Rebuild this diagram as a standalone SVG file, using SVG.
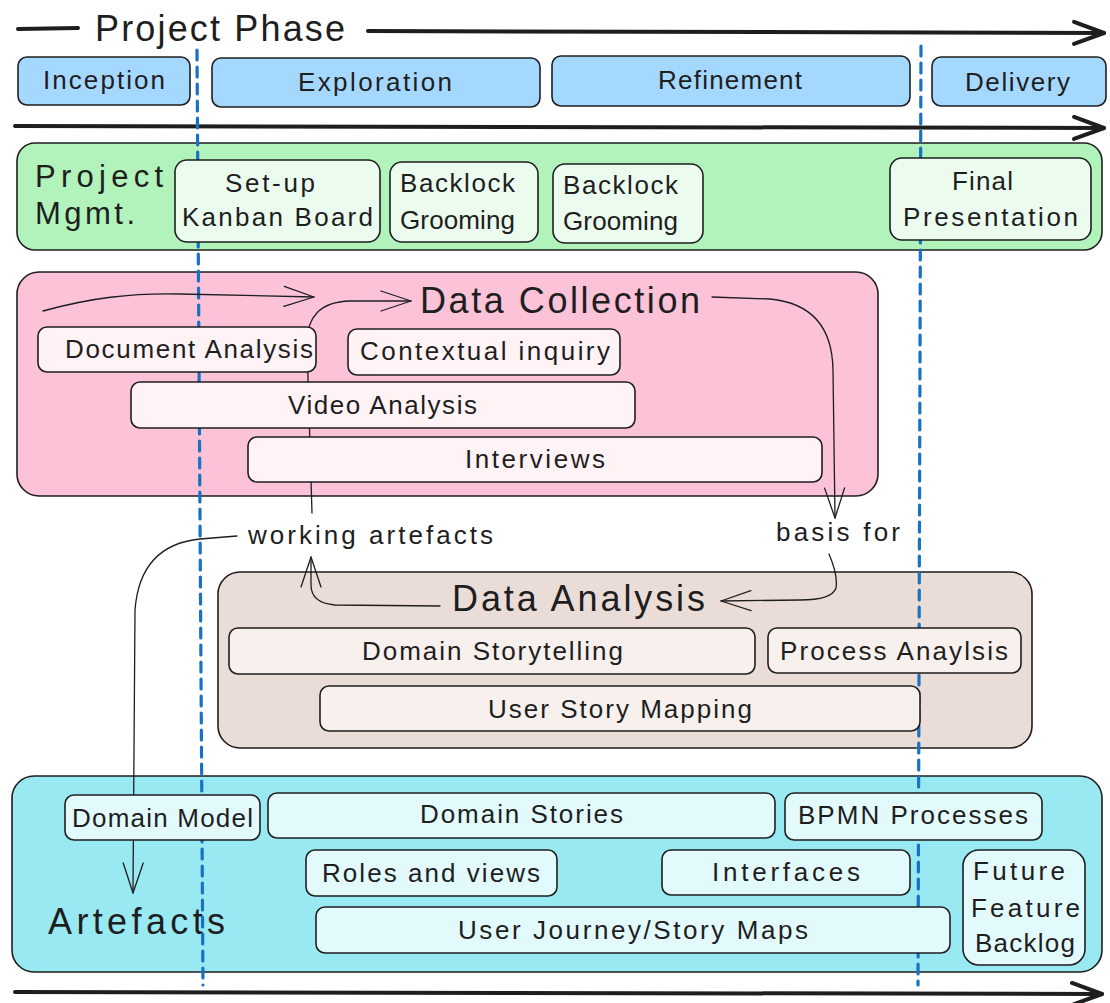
<svg xmlns="http://www.w3.org/2000/svg" width="1110" height="1003" viewBox="0 0 1110 1003">
<defs>
<marker id="arrow" markerUnits="userSpaceOnUse" markerWidth="36" markerHeight="26" viewBox="0 0 36 26" refX="32" refY="13" orient="auto">
<path d="M 2 3 L 32 13 L 2 23" fill="none" stroke="#1e1e1e" stroke-width="1.3" stroke-linecap="round" stroke-linejoin="round"/>
</marker>
<marker id="bigarrow" markerUnits="userSpaceOnUse" markerWidth="40" markerHeight="30" viewBox="0 0 40 30" refX="34" refY="15" orient="auto">
<path d="M 4 4 L 34 15 L 4 26" fill="none" stroke="#1e1e1e" stroke-width="4" stroke-linecap="round" stroke-linejoin="round"/>
</marker>
</defs>
<style>
text{font-family:"Liberation Sans","DejaVu Sans",sans-serif;fill:#1e1e1e;dominant-baseline:central;}
.t{font-size:26px;}
.big{font-size:36px;}
.pm{font-size:31px;}
.box{stroke:#1e1e1e;stroke-width:1.6;}
.phase{fill:#a5d8ff;}
.green{fill:#b2f2bb;}
.greensub{fill:#ebfbee;}
.pink{fill:#fcc2d7;}
.pinksub{fill:#fff3f5;}
.brown{fill:#eaddd7;}
.brownsub{fill:#f7f0ed;}
.cyan{fill:#99e9f2;}
.cyansub{fill:#e3fafc;}
.dash{stroke:#1971c2;stroke-width:3.2;stroke-dasharray:10 7;fill:none;stroke-linecap:round;}
.conn{fill:none;stroke:#1e1e1e;stroke-width:1.3;stroke-linecap:round;}
.thick{fill:none;stroke:#1e1e1e;stroke-width:4;stroke-linecap:round;}
</style>
<rect width="1110" height="1003" fill="#ffffff"/>

<!-- timeline arrows -->
<g id="timeline">
<path class="thick" d="M 18 29 L 78 28"/>
<text class="big" x="95" y="28" textLength="250">Project Phase</text>
<path class="thick" d="M 368 31 L 1104 33" marker-end="url(#bigarrow)"/>
<path class="thick" d="M 15 126 L 1104 128" marker-end="url(#bigarrow)"/>
<path class="thick" d="M 15 992 L 1102 994" marker-end="url(#bigarrow)"/>
</g>

<!-- phases -->
<g id="phase-inception"><rect class="box phase" x="18" y="57" width="172" height="48" rx="9"/><text class="t" x="43" y="80" textLength="122">Inception</text></g>
<g id="phase-exploration"><rect class="box phase" x="212" y="58" width="328" height="49" rx="9"/><text class="t" x="298" y="82" textLength="154">Exploration</text></g>
<g id="phase-refinement"><rect class="box phase" x="552" y="56" width="358" height="50" rx="9"/><text class="t" x="658" y="80" textLength="144">Refinement</text></g>
<g id="phase-delivery"><rect class="box phase" x="932" y="57" width="174" height="49" rx="9"/><text class="t" x="965" y="82" textLength="105">Delivery</text></g>

<!-- containers -->
<g id="project-mgmt">
<rect class="box green" x="17" y="143" width="1085" height="107" rx="18"/>
<text class="pm" x="35" y="176" textLength="128">Project</text>
<text class="pm" x="35" y="213" textLength="100">Mgmt.</text>
</g>
<g id="data-collection">
<rect class="box pink" x="17" y="272" width="861" height="224" rx="22"/>
<text class="big" x="420" y="300" textLength="280">Data Collection</text>
</g>
<g id="data-analysis">
<rect class="box brown" x="218" y="572" width="814" height="176" rx="22"/>
<text class="big" x="452" y="598" textLength="253">Data Analysis</text>
</g>
<g id="artefacts">
<rect class="box cyan" x="12" y="776" width="1090" height="196" rx="22"/>
<text class="big" x="48" y="921" font-size="38" textLength="177">Artefacts</text>
</g>

<!-- phase boundaries -->
<g id="boundaries">
<path class="dash" d="M 197 50 L 203 985"/>
<path class="dash" d="M 921 46 L 918 985"/>
</g>

<!-- connectors -->
<g id="connectors">
<path class="conn" d="M 43 311 C 90 298 130 293 180 294 L 314 297" marker-end="url(#arrow)"/>
<path class="conn" d="M 312 513 L 307 345 Q 306 302 350 301 L 411 301" marker-end="url(#arrow)"/>
<path class="conn" d="M 440 606 L 335 605 Q 311 603 311 585 L 311 557" marker-end="url(#arrow)"/>
<path class="conn" d="M 712 297 L 770 299 Q 832 305 833 370 L 835 518" marker-end="url(#arrow)"/>
<path class="conn" d="M 829 554 Q 838 575 836 588 Q 832 600 800 600 L 721 601" marker-end="url(#arrow)"/>
<path class="conn" d="M 237 536 L 200 539 Q 140 545 135 610 L 133 893" marker-end="url(#arrow)"/>
<text class="t" x="248" y="535" textLength="245">working artefacts</text>
<text class="t" x="776" y="532" textLength="124">basis for</text>
</g>

<!-- project mgmt items -->
<g id="setup-kanban"><rect class="box greensub" x="175" y="160" width="205" height="82" rx="12"/><text class="t" x="225" y="183" textLength="90">Set-up</text><text class="t" x="182" y="217" textLength="191">Kanban Board</text></g>
<g id="backlog-grooming-1"><rect class="box greensub" x="390" y="162" width="148" height="80" rx="12"/><text class="t" x="400" y="183" textLength="115">Backlock</text><text class="t" x="400" y="220" textLength="115">Grooming</text></g>
<g id="backlog-grooming-2"><rect class="box greensub" x="553" y="164" width="150" height="79" rx="12"/><text class="t" x="563" y="185" textLength="115">Backlock</text><text class="t" x="563" y="221" textLength="115">Grooming</text></g>
<g id="final-presentation"><rect class="box greensub" x="890" y="158" width="201" height="82" rx="12"/><text class="t" x="952" y="181" textLength="61">Final</text><text class="t" x="903" y="217" textLength="175">Presentation</text></g>

<!-- data collection items -->
<g id="document-analysis"><rect class="box pinksub" x="38" y="327" width="278" height="45" rx="9"/><text class="t" x="65" y="349" textLength="248">Document Analysis</text></g>
<g id="contextual-inquiry"><rect class="box pinksub" x="348" y="329" width="272" height="46" rx="9"/><text class="t" x="360" y="351" textLength="250">Contextual inquiry</text></g>
<g id="video-analysis"><rect class="box pinksub" x="131" y="382" width="504" height="46" rx="9"/><text class="t" x="288" y="405" textLength="189">Video Analysis</text></g>
<g id="interviews"><rect class="box pinksub" x="248" y="437" width="574" height="45" rx="9"/><text class="t" x="465" y="459" textLength="140">Interviews</text></g>

<!-- data analysis items -->
<g id="domain-storytelling"><rect class="box brownsub" x="229" y="628" width="526" height="46" rx="9"/><text class="t" x="362" y="651" textLength="261">Domain Storytelling</text></g>
<g id="process-analysis"><rect class="box brownsub" x="768" y="628" width="253" height="45" rx="9"/><text class="t" x="780" y="651" textLength="228">Process Anaylsis</text></g>
<g id="user-story-mapping"><rect class="box brownsub" x="320" y="686" width="600" height="45" rx="9"/><text class="t" x="488" y="709" textLength="264">User Story Mapping</text></g>

<!-- artefact items -->
<g id="domain-model"><rect class="box cyansub" x="65" y="795" width="195" height="45" rx="9"/><text class="t" x="72" y="818" textLength="181">Domain Model</text></g>
<g id="domain-stories"><rect class="box cyansub" x="268" y="793" width="507" height="45" rx="9"/><text class="t" x="420" y="814" textLength="203">Domain Stories</text></g>
<g id="bpmn-processes"><rect class="box cyansub" x="785" y="793" width="257" height="47" rx="9"/><text class="t" x="798" y="815" textLength="230">BPMN Processes</text></g>
<g id="roles-views"><rect class="box cyansub" x="306" y="850" width="251" height="46" rx="9"/><text class="t" x="322" y="873" textLength="218">Roles and views</text></g>
<g id="interfaces"><rect class="box cyansub" x="662" y="850" width="248" height="45" rx="9"/><text class="t" x="712" y="872" textLength="148">Interfaces</text></g>
<g id="user-journey"><rect class="box cyansub" x="316" y="907" width="634" height="46" rx="9"/><text class="t" x="458" y="930" textLength="350">User Journey/Story Maps</text></g>
<g id="future-backlog"><rect class="box cyansub" x="963" y="850" width="122" height="115" rx="16"/><text class="t" x="973" y="871" textLength="92">Future</text><text class="t" x="971" y="908" textLength="109">Feature</text><text class="t" x="975" y="943" textLength="100">Backlog</text></g>
</svg>
